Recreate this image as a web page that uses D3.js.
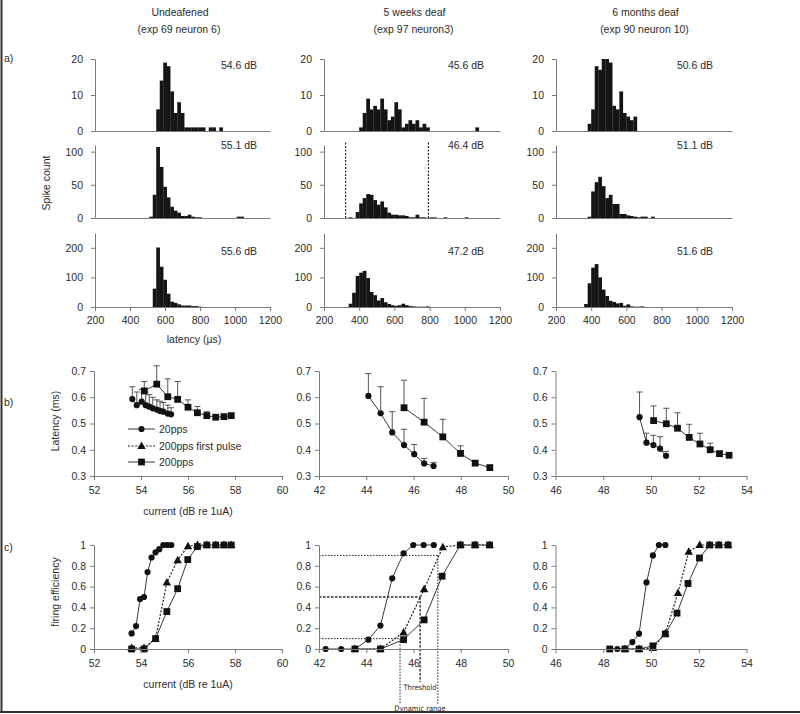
<!DOCTYPE html>
<html><head><meta charset="utf-8">
<script src="https://cdn.jsdelivr.net/npm/d3@7"></script>
<style>body{margin:0;background:#fff}</style>
</head><body>
<svg id="c" width="800" height="714"></svg>
<script>
// ---------- DATA ----------
const colTitles = ["Undeafened", "5 weeks deaf", "6 months deaf"];
const colSubtitles = ["(exp 69 neuron 6)", "(exp 97 neuron3)", "(exp 90 neuron 10)"];
const panelTags = ["a)", "b)", "c)"];
const latencyTicks = [200, 400, 600, 800, 1000, 1200];
const binWidth = 20;
const levelLabels = [["54.6 dB", "55.1 dB", "55.6 dB"], ["45.6 dB", "46.4 dB", "47.2 dB"], ["50.6 dB", "51.1 dB", "51.6 dB"]];
const histStarts = [[550, 510, 530], [400, 340, 340], [380, 380, 360]];
const hist_c1_r1 = [6,14,19,18,11,5,8,5,1,1,1,1,1,1,0,1,1,0,1];
const hist_c1_r2 = [2,35,107,77,47,31,17,11,8,3,3,5,2,1,1,0,0,0,0,0,0,0,0,0,0,2,2];
const hist_c1_r3 = [62,201,136,92,45,18,14,9,5,5,5,3,3,1];
const hist_c2_r1 = [1,5,9,6,7,6,9,6,3,4,8,6,1,2,3,2,3,1,2,1,0,0,0,0,0,0,0,0,0,0,0,0,0,1];
const hist_c2_r2 = [1,0,9,22,30,36,35,27,20,25,16,8,5,5,4,4,3,1,1,5,1,1,0,1,1,0,0,1,0,0,0,0,0,1];
const hist_c2_r3 = [11,48,105,116,122,98,51,40,22,30,16,10,6,4,6,11,6,3,2,1,1,1,2];
const hist_c3_r1 = [2,6,18,17,20,20,19,7,6,11,5,4,3,4];
const hist_c3_r2 = [2,40,54,62,48,30,35,21,21,6,6,4,3,2,1,2,2,0,2];
const hist_c3_r3 = [10,80,133,145,100,59,37,21,17,12,14,4,9,2,1,1,2];
const histCounts = [[hist_c1_r1, hist_c1_r2, hist_c1_r3], [hist_c2_r1, hist_c2_r2, hist_c2_r3], [hist_c3_r1, hist_c3_r2, hist_c3_r3]];
const histMax = [20, 110, 250];
const histTicks = [[0, 10, 20], [0, 50, 100], [0, 100, 200]];
const windowMarks = [323, 793]; // dashed window, 5 weeks deaf 46.4 dB

const currentDomains = [[52, 60], [42, 50], [46, 54]];
const currentTicks = [[52,54,56,58,60],[42,44,46,48,50],[46,48,50,52,54]];
const latTicks = [0.3, 0.4, 0.5, 0.6, 0.7];
const effTicks = [0, 0.2, 0.4, 0.6, 0.8, 1];
const legendNames = ["20pps", "200pps first pulse", "200pps"];

// (b) latency vs current: 20pps circles, 200pps squares (value, upper error)
const b1_20_cur = [53.63,53.82,54.03,54.2,54.35,54.5,54.67,54.81,54.95,55.14,55.28];
const b1_20_lat = [0.593,0.570,0.583,0.570,0.564,0.558,0.553,0.548,0.545,0.538,0.535];
const b1_20_err = [0.64,0.62,0.63,0.62,0.61,0.60,0.59,0.585,0.58,0.57,0.56];
const b1_200_cur = [54.14,54.67,55.14,55.56,56.0,56.4,56.8,57.18,57.53,57.84];
const b1_200_lat = [0.624,0.65,0.602,0.592,0.562,0.541,0.53,0.524,0.526,0.53];
const b1_200_err = [0.66,0.72,0.67,0.66,0.59,0.565,0.545,0.53,0.53,0.535];

const b2_20_cur = [44.09,44.61,45.1,45.6,46.03,46.45,46.85];
const b2_20_lat = [0.605,0.539,0.466,0.418,0.383,0.348,0.338];
const b2_20_err = [0.69,0.64,0.545,0.478,0.42,0.367,0.352];
const b2_200_cur = [45.6,46.45,47.24,47.99,48.61,49.23];
const b2_200_lat = [0.56,0.505,0.449,0.386,0.349,0.332];
const b2_200_err = [0.665,0.596,0.516,0.415,0.357,0.332];

const b3_20_cur = [49.52,49.81,50.1,50.38,50.63];
const b3_20_lat = [0.524,0.427,0.418,0.404,0.377];
const b3_20_err = [0.62,0.463,0.455,0.45,0.394];
const b3_200_cur = [50.11,50.64,51.11,51.6,52.05,52.48,52.87,53.27];
const b3_200_lat = [0.511,0.499,0.482,0.447,0.422,0.4,0.385,0.379];
const b3_200_err = [0.567,0.558,0.541,0.497,0.463,0.425,0.395,0.379];

// (c) firing efficiency vs current
const c1_20_cur = [53.6,53.79,53.96,54.13,54.28,54.45,54.62,54.78,54.95,55.12,55.29];
const c1_20_eff = [0.15,0.22,0.48,0.5,0.74,0.88,0.93,0.96,1,1,1];
const c1_fp_cur = [53.6,54.13,54.62,55.1,55.56,56.0,56.4,56.8,57.18,57.53,57.84];
const c1_fp_eff = [0.01,0.01,0.1,0.64,0.855,0.99,1,1,1,1,1];
const c1_200_cur = [53.6,54.13,54.62,55.1,55.56,55.99,56.4,56.8,57.18,57.53,57.84];
const c1_200_eff = [0,0,0.1,0.36,0.58,0.86,0.985,1,1,1,1];

const c2_20_cur = [42.28,42.94,43.52,44.09,44.6,45.1,45.58,45.99,46.43,46.86];
const c2_20_eff = [0,0,0,0.09,0.225,0.68,0.92,1,1,1];
const c2_fp_cur = [43.52,44.6,45.58,46.45,47.24,47.99,48.61,49.23];
const c2_fp_eff = [0,0,0.16,0.575,0.98,1,1,1];
const c2_200_cur = [43.52,44.6,45.58,46.45,47.21,47.98,48.6,49.22];
const c2_200_eff = [0,0,0.09,0.28,0.7,1,1,1];

const c3_20_cur = [48.27,48.59,48.91,49.22,49.5,49.81,50.08,50.33,50.6];
const c3_20_eff = [0,0,0,0.067,0.147,0.64,0.9,1,1];
const c3_fp_cur = [48.91,49.5,50.08,50.6,51.13,51.58,52.04,52.45,52.84,53.23];
const c3_fp_eff = [0,0,0.01,0.15,0.54,0.935,1,1,1,1];
const c3_200_cur = [48.27,48.91,49.5,50.08,50.6,51.09,51.55,52.03,52.46,52.84,53.23];
const c3_200_eff = [0,0,0,0.03,0.145,0.345,0.63,0.875,1,1,1];

// annotation on 5-weeks-deaf efficiency panel
const guideLevels = [0.1, 0.5, 0.9];
const guideCurrents = [45.43, 46.28, 47.03];
const guideTexts = ["Threshold", "Dynamic range"];

// ---------- DRAW ----------
const svg = d3.select("#c");
const FONT = "'Liberation Sans', Arial, Helvetica, sans-serif";
const TXT = "#2b2b2b", AX = "#7a7a7a", MK = "#111", LN = "#3a3a3a";
svg.append("rect").attr("width", 800).attr("height", 714).attr("fill", "#fff");

function txt(x, y, s, opt = {}) {
  return svg.append("text").attr("x", x).attr("y", y).text(s)
    .attr("font-family", opt.family || FONT).attr("font-size", opt.size || 10.5)
    .attr("fill", opt.fill || TXT).attr("text-anchor", opt.anchor || "middle")
    .attr("dominant-baseline", "central");
}
function styleAxis(g) {
  g.selectAll("path.domain").attr("stroke", AX).attr("stroke-width", 1);
  g.selectAll(".tick line").attr("stroke", AX);
  g.selectAll("text").attr("font-family", FONT).attr("font-size", 10.5).attr("fill", TXT);
}

// frame
svg.append("line").attr("x1", 1.5).attr("x2", 1.5).attr("y1", 0).attr("y2", 713).attr("stroke", "#333").attr("stroke-width", 2);
svg.append("line").attr("x1", 0).attr("x2", 800).attr("y1", 712).attr("y2", 712).attr("stroke", "#333").attr("stroke-width", 2);

// titles
const titleX = [180, 414.5, 645.5];
colTitles.forEach((t, i) => { txt(titleX[i], 12, t); txt(titleX[i] - 1, 29, colSubtitles[i]); });
txt(4, 58, panelTags[0], {anchor: "start"});
txt(4, 402, panelTags[1], {anchor: "start"});
txt(4, 547, panelTags[2], {anchor: "start"});

// ---- (a) histograms ----
const histX = [[95, 270], [324, 500], [556, 732]];
const histY = [[131, 59], [218, 145], [307, 233]];
const labelPos = [239, 466, 695];
const labelY = [65, 145, 251];
for (let c = 0; c < 3; c++) {
  const x = d3.scaleLinear().domain([200, 1200]).range(histX[c]);
  for (let r = 0; r < 3; r++) {
    const y = d3.scaleLinear().domain([0, histMax[r]]).range(histY[r]);
    const counts = histCounts[c][r], st = histStarts[c][r];
    svg.append("g").selectAll("rect").data(counts.map((v, i) => ({v, i})).filter(d => d.v > 0))
      .join("rect")
      .attr("x", d => x(st + d.i * binWidth))
      .attr("width", d => x(st + (d.i + 1) * binWidth) - x(st + d.i * binWidth) + 0.2)
      .attr("y", d => y(d.v)).attr("height", d => y(0) - y(d.v))
      .attr("fill", "#141414");
    const gy = svg.append("g").attr("transform", `translate(${histX[c][0]},0)`)
      .call(d3.axisLeft(y).tickValues(histTicks[r]).tickSize(4).tickPadding(8).tickSizeOuter(0));
    styleAxis(gy);
    const gx = svg.append("g").attr("transform", `translate(0,${histY[r][0]})`);
    if (r === 2) {
      gx.call(d3.axisBottom(x).tickValues(latencyTicks).tickFormat(d3.format("d")).tickSize(4).tickPadding(6).tickSizeOuter(0));
    } else {
      gx.call(d3.axisBottom(x).tickValues([]).tickSize(0).tickSizeOuter(0));
    }
    styleAxis(gx);
    txt(labelPos[c], labelY[r], levelLabels[c][r]);
    if (c === 1 && r === 1) {
      svg.append("g").selectAll("line").data(windowMarks).join("line")
        .attr("x1", d => x(d)).attr("x2", d => x(d))
        .attr("y1", y(0)).attr("y2", y(histMax[r]) - 3)
        .attr("stroke", "#111").attr("stroke-width", 1.1).attr("stroke-dasharray", "2,1.5");
    }
  }
}
txt(194, 339, "latency (µs)");
svg.append("text").attr("transform", "translate(46,183) rotate(-90)").text("Spike count")
  .attr("font-family", FONT).attr("font-size", 10.5).attr("fill", TXT).attr("text-anchor", "middle").attr("dominant-baseline", "central");

// ---- markers ----
function marker(g, kind, px, py) {
  if (kind === "circle") g.append("circle").attr("cx", px).attr("cy", py).attr("r", 3.1).attr("fill", MK);
  else if (kind === "square") g.append("rect").attr("x", px - 3.4).attr("y", py - 3.4).attr("width", 6.8).attr("height", 6.8).attr("fill", MK);
  else g.append("path").attr("d", `M${px},${py - 4.4}L${px + 4.2},${py + 3.1}L${px - 4.2},${py + 3.1}Z`).attr("fill", MK);
}
function series(g, x, y, xs, ys, kind, dashed) {
  const pts = xs.map((v, i) => [x(v), y(ys[i])]);
  g.append("path").attr("d", d3.line()(pts)).attr("fill", "none")
    .attr("stroke", dashed ? "#222" : LN).attr("stroke-width", dashed ? 1.2 : 1)
    .attr("stroke-dasharray", dashed ? "2,1.6" : null);
  pts.forEach(p => marker(g, kind, p[0], p[1]));
}
function errbars(g, x, y, xs, ys, es) {
  xs.forEach((v, i) => {
    if (es[i] <= ys[i] + 0.003) return;
    const px = x(v);
    g.append("line").attr("x1", px).attr("x2", px).attr("y1", y(ys[i])).attr("y2", y(es[i])).attr("stroke", "#555").attr("stroke-width", 1);
    g.append("line").attr("x1", px - 3).attr("x2", px + 3).attr("y1", y(es[i])).attr("y2", y(es[i])).attr("stroke", "#555").attr("stroke-width", 1);
  });
}

const bcX = [[94, 282], [319, 508], [555.5, 746.5]];
const bData = [
  [b1_20_cur, b1_20_lat, b1_20_err, b1_200_cur, b1_200_lat, b1_200_err],
  [b2_20_cur, b2_20_lat, b2_20_err, b2_200_cur, b2_200_lat, b2_200_err],
  [b3_20_cur, b3_20_lat, b3_20_err, b3_200_cur, b3_200_lat, b3_200_err]];
const cData = [
  [c1_20_cur, c1_20_eff, c1_fp_cur, c1_fp_eff, c1_200_cur, c1_200_eff],
  [c2_20_cur, c2_20_eff, c2_fp_cur, c2_fp_eff, c2_200_cur, c2_200_eff],
  [c3_20_cur, c3_20_eff, c3_fp_cur, c3_fp_eff, c3_200_cur, c3_200_eff]];
const fmtEff = d => d === 0 ? "0" : d === 1 ? "1" : d.toFixed(1);

for (let c = 0; c < 3; c++) {
  const x = d3.scaleLinear().domain(currentDomains[c]).range(bcX[c]);
  // (b)
  const yb = d3.scaleLinear().domain([0.3, 0.7]).range([476, 371]);
  const g = svg.append("g");
  const bd = bData[c];
  errbars(g, x, yb, bd[0], bd[1], bd[2]);
  errbars(g, x, yb, bd[3], bd[4], bd[5]);
  series(g, x, yb, bd[0], bd[1], "circle", false);
  series(g, x, yb, bd[3], bd[4], "square", false);
  styleAxis(svg.append("g").attr("transform", `translate(${bcX[c][0]},0)`)
    .call(d3.axisLeft(yb).tickValues(latTicks).tickFormat(d3.format(".1f")).tickSize(4).tickPadding(4).tickSizeOuter(0)));
  styleAxis(svg.append("g").attr("transform", `translate(0,476)`)
    .call(d3.axisBottom(x).tickValues(currentTicks[c]).tickFormat(d3.format("d")).tickSize(4).tickPadding(7).tickSizeOuter(0)));
  // (c)
  const yc = d3.scaleLinear().domain([0, 1]).range([649, 545]);
  const gc = svg.append("g");
  const cd = cData[c];
  if (c === 1) {
    guideLevels.forEach((lv, i) => {
      gc.append("line").attr("x1", x(currentDomains[c][0])).attr("x2", x(guideCurrents[i]))
        .attr("y1", yc(lv)).attr("y2", yc(lv)).attr("stroke", "#222")
        .attr("stroke-width", i === 1 ? 1.3 : 1).attr("stroke-dasharray", i === 1 ? "2.5,1.5" : "1.5,1.5");
      gc.append("line").attr("x1", x(guideCurrents[i])).attr("x2", x(guideCurrents[i]))
        .attr("y1", yc(lv)).attr("y2", i === 1 ? 682 : 704).attr("stroke", "#222")
        .attr("stroke-width", i === 1 ? 1.3 : 1).attr("stroke-dasharray", i === 1 ? "2.5,1.5" : "1.5,1.5");
    });
  }
  series(gc, x, yc, cd[2], cd[3], "triangle", true);
  series(gc, x, yc, cd[4], cd[5], "square", false);
  series(gc, x, yc, cd[0], cd[1], "circle", false);
  styleAxis(svg.append("g").attr("transform", `translate(${bcX[c][0]},0)`)
    .call(d3.axisLeft(yc).tickValues(effTicks).tickFormat(fmtEff).tickSize(4).tickPadding(4).tickSizeOuter(0)));
  styleAxis(svg.append("g").attr("transform", `translate(0,649)`)
    .call(d3.axisBottom(x).tickValues(currentTicks[c]).tickFormat(d3.format("d")).tickSize(4).tickPadding(7).tickSizeOuter(0)));
  if (c === 1) {
    txt(420, 687.5, guideTexts[0], {size: 7.5, family: "'Liberation Sans Narrow','DejaVu Sans Condensed',sans-serif"});
    txt(420, 708.5, guideTexts[1], {size: 7.5, family: "'Liberation Sans Narrow','DejaVu Sans Condensed',sans-serif"});
  }
}
txt(188, 511, "current (dB re 1uA)");
txt(188, 684, "current (dB re 1uA)");
svg.append("text").attr("transform", "translate(55,421) rotate(-90)").text("Latency (ms)")
  .attr("font-family", FONT).attr("font-size", 10.5).attr("fill", TXT).attr("text-anchor", "middle").attr("dominant-baseline", "central");
svg.append("text").attr("transform", "translate(55,592) rotate(-90)").text("firing efficiency")
  .attr("font-family", FONT).attr("font-size", 10.5).attr("fill", TXT).attr("text-anchor", "middle").attr("dominant-baseline", "central");

// legend
const lg = svg.append("g");
const kinds = ["circle", "triangle", "square"];
const legY = [429, 446, 462];
legendNames.forEach((n, i) => {
  lg.append("line").attr("x1", 128).attr("x2", 155).attr("y1", legY[i]).attr("y2", legY[i])
    .attr("stroke", i === 1 ? "#222" : LN).attr("stroke-width", i === 1 ? 1.2 : 1)
    .attr("stroke-dasharray", i === 1 ? "2,1.6" : null);
  marker(lg, kinds[i], 141.5, legY[i]);
  lg.append("text").attr("x", 159).attr("y", legY[i]).text(n).attr("font-family", FONT)
    .attr("font-size", 10.5).attr("fill", TXT).attr("dominant-baseline", "central");
});
</script>
</body></html>
